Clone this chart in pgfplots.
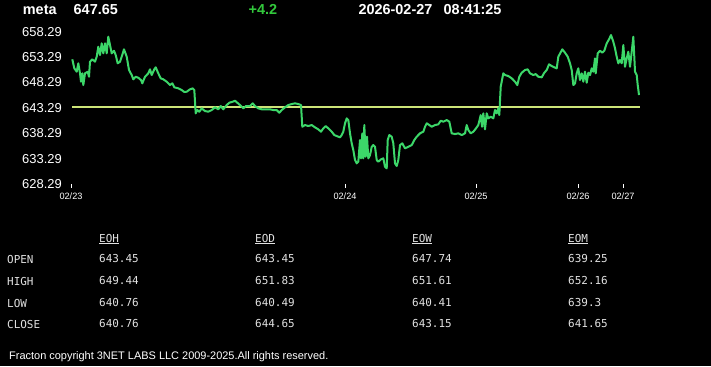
\documentclass[border=0pt]{standalone}
\usepackage{pgfplots}
\pgfplotsset{compat=1.18}
\usepackage{pgfplotstable}
\usepackage{fontspec}
\setmainfont{Liberation Sans}
\newfontfamily\monofont{DejaVu Sans Mono}
\definecolor{linegreen}{RGB}{60,215,105}
\definecolor{refline}{RGB}{205,228,120}
\definecolor{chg}{RGB}{50,200,60}
\definecolor{tabtxt}{RGB}{225,225,225}

\pgfplotstableread{
x y
72.3 652.85
74.3 651.07
76.7 650.41
78.3 652.06
80 650.09
81 648.44
82.3 650.09
83.3 647.78
85 650.09
87.7 650.41
89 649.42
90 652.38
92.3 652.85
95 652.38
96.7 653.36
98.3 655.33
100 653.69
101.7 656.00
103.3 654.03
105 656.00
106.7 654.03
108.3 657.30
110 655.66
111.7 654.03
114 654.54
115.7 653.69
117.7 652.06
120 652.38
121.7 653.36
124 654.82
126.7 653.36
129 650.74
131.7 649.75
133.3 648.91
135.7 649.42
138.3 649.22
141 648.77
142.3 648.12
145 649.42
148.3 650.09
150 650.88
151.7 649.75
154.3 650.88
155.7 651.27
158.3 650.09
160.7 649.10
163.3 648.91
166.7 648.44
170 647.78
172.3 648.12
174.3 647.33
178.3 647.13
181.7 646.80
184.3 646.41
186.7 646.47
190 646.94
192.7 647.13
194.3 646.80
195.7 642.21
197.3 642.86
199.3 642.53
201.7 643.19
205 642.66
208.3 642.53
211.7 642.86
215 643.39
218.3 643.00
220.7 643.65
223.3 643.00
226.7 643.84
229.3 644.30
232.7 644.50
235 644.69
237.3 644.30
240 643.84
243.3 643.19
246 643.65
250 643.65
252.7 644.18
255 643.65
258.3 643.19
261.7 643.00
266 643.00
270 643.00
273.3 642.86
276.7 642.86
279.3 642.33
281.7 642.86
285 643.39
288.3 643.84
291.7 644.04
295 644.18
298.3 644.04
301 643.84
302.3 639.57
305 639.90
308.3 639.71
311.7 639.90
315 639.45
318.3 639.06
321 638.59
323.3 639.25
325.7 639.71
328.3 639.25
331.7 638.59
334.3 637.93
336.7 637.74
340 637.48
341.7 637.93
343.3 638.59
345 640.24
346.7 641.22
348.3 640.89
350 638.27
351.7 636.30
353.3 634.98
355 633.01
356.7 632.36
358.3 632.68
360 636.95
361 633.34
362.3 638.27
363.3 633.34
364.3 639.90
365.7 633.66
367 637.60
368.3 633.34
370 633.99
371.7 635.63
373.3 635.96
375 635.63
376.7 633.01
378.3 632.68
381 633.15
383.3 633.34
385 631.69
386.7 631.37
387.7 636.95
389.3 637.93
391.7 637.60
393.3 636.30
395 632.36
396.7 631.83
398.3 633.01
400 635.96
402.3 636.30
405 635.31
408.3 635.63
411.7 635.96
414.3 636.95
416.7 637.60
420 638.27
423.3 638.59
425 639.57
426.7 640.24
429.3 639.90
431.7 639.57
435 639.90
438.3 640.04
440.7 640.75
443.3 640.56
446.7 640.89
449.3 640.56
451.7 638.27
455 638.13
458.3 638.27
461.7 637.93
465 638.27
466.7 639.90
468.3 638.92
470.7 638.27
473.3 638.59
476 639.25
478.3 639.90
480.7 641.87
482 639.57
483.3 642.21
485 639.06
486.7 642.21
488.3 641.22
490.7 641.54
493.3 641.22
495 642.86
496.7 642.21
498.3 643.19
499.3 641.87
500.7 647.45
503.3 650.09
505 649.75
508.3 649.56
511.7 649.10
515 648.44
517.3 647.78
519.3 649.42
521.7 650.21
525 650.74
527.7 650.88
530 650.09
533.3 649.75
535.7 649.95
538.3 649.42
541.7 649.30
544.3 650.21
546.7 650.74
549 651.86
551.7 651.53
554.3 651.27
556.7 651.07
558.3 653.36
561 654.35
562.3 654.82
565 654.15
567.7 653.36
570 652.06
571.7 650.74
573.3 647.78
575 648.12
576.7 650.09
578.3 651.07
580 648.77
581.7 650.09
583.3 648.44
585 650.41
586.7 648.24
588.3 650.21
590 649.75
591.7 651.07
593.3 650.41
595 653.04
595.7 650.09
597.7 654.03
600 654.54
602.3 654.15
604.3 654.54
606.7 656.00
609 656.79
611 657.63
613.3 656.32
615 655.01
616.7 653.36
618.3 652.06
620 652.71
621.7 652.06
623.3 655.66
625 651.39
626.7 653.04
628.3 654.35
630 651.39
631.7 654.35
633.3 657.30
635 650.41
636.7 649.75
637.7 647.78
639 645.81
}\pricedata

\begin{document}
\begin{tikzpicture}[x=1bp,y=1bp]
\fill[black] (0,0) rectangle (711,366);
\path[use as bounding box] (0,0) rectangle (711,366);
\begin{axis}[
  at={(0,0)}, anchor=south west,
  scale only axis, width=711bp, height=366bp,
  xmin=0, xmax=711, ymin=592.44, ymax=664.534,
  axis line style={draw=none},
  major tick length=0,
  ytick={628.29,633.29,638.29,643.29,648.29,653.29,658.29},
  yticklabel style={white, anchor=east, inner sep=0pt, xshift=62bp,
    font=\fontsize{13}{13}\selectfont,
    /pgf/number format/.cd, fixed, fixed zerofill, precision=2, assume math mode=true},
  xtick={71,345,476,578,623},
  xticklabels={02/23,02/24,02/25,02/26,02/27},
  xticklabel style={white, anchor=center, inner sep=0pt, yshift=169.3bp,
    font=\fontsize{9.2}{9.2}\selectfont},
  clip=false,
]
\addplot[refline, line width=2.4bp] coordinates {(72,643.45) (640,643.45)};
\addplot[linegreen, line width=2bp, line join=round] table[x=x,y=y] {\pricedata};
\pgfplotsinvokeforeach{71,345,476,578,623}{
  \draw[white, line width=1bp] (axis cs:#1,628.2) -- (axis cs:#1,627.5);
}
\end{axis}
% header
\begin{scope}[every node/.style={inner sep=0pt, anchor=base west, font=\fontsize{14.5}{14.5}\selectfont\bfseries}]
\node[white] at (22.7,351.5) {meta};
\node[white] at (73.5,351.5) {647.65};
\node[chg] at (248.5,351.5) {+4.2};
\node[white] at (358.3,351.5) {2026-02-27};
\node[white] at (443.5,351.5) {08:41:25};
\end{scope}
% table
\begin{scope}[every node/.style={inner sep=0pt, anchor=base west, text=tabtxt, font=\monofont\fontsize{11}{11}\selectfont}]
\node at (99,124) {\underline{EOH}};
\node at (255,124) {\underline{EOD}};
\node at (412,124) {\underline{EOW}};
\node at (568,124) {\underline{EOM}};
\node at (7,103) {OPEN};
\node at (7,81) {HIGH};
\node at (7,59) {LOW};
\node at (7,37.5) {CLOSE};
\node at (99,104) {643.45};
\node at (255,104) {643.45};
\node at (412,104) {647.74};
\node at (568,104) {639.25};
\node at (99,81.5) {649.44};
\node at (255,81.5) {651.83};
\node at (412,81.5) {651.61};
\node at (568,81.5) {652.16};
\node at (99,60) {640.76};
\node at (255,60) {640.49};
\node at (412,60) {640.41};
\node at (568,60) {639.3};
\node at (99,38.5) {640.76};
\node at (255,38.5) {644.65};
\node at (412,38.5) {643.15};
\node at (568,38.5) {641.65};
\end{scope}
% footer
\node[inner sep=0pt, anchor=base west, white, font=\fontsize{11}{11}\selectfont] at (9,7) {Fracton copyright 3NET LABS LLC 2009-2025.All rights reserved.};
\end{tikzpicture}
\end{document}
